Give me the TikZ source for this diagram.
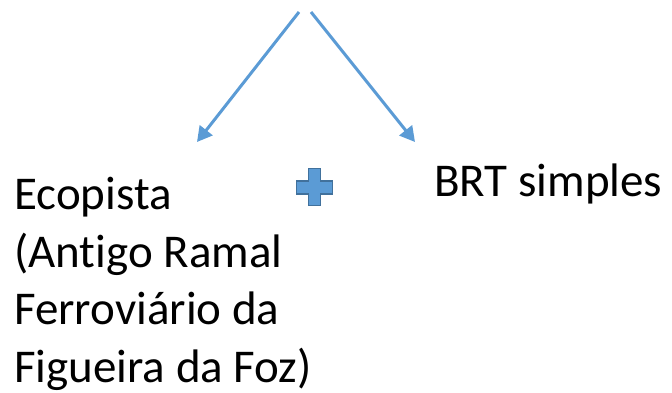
\documentclass[tikz,border=0pt]{standalone}
\usepackage{fontspec}
\setmainfont{Carlito}[Ligatures=NoCommon]
\usetikzlibrary{arrows.meta}
\definecolor{accent}{HTML}{5B9BD5}
\definecolor{accentdark}{HTML}{41719C}
\begin{document}
\begin{tikzpicture}[x=1pt,y=-1pt,
  conn/.style={draw=accent,line width=3pt,-{Triangle[length=15pt,width=16pt]}},
  label/.style={inner sep=0pt,font=\fontsize{47}{57.5}\selectfont,align=left,text=black},
  plusshape/.style={fill=accent,draw=accentdark,line width=1.6pt,line join=miter}]
\useasboundingbox (0,0) rectangle (672,393);
\coordinate (s1) at (299,12);
\coordinate (t1) at (197,142);
\coordinate (s2) at (311,12);
\coordinate (t2) at (415,142);
\draw[conn] (s1) -- (t1);
\draw[conn] (s2) -- (t2);
\node[label,anchor=base west] (eco) at (14,382) {Ecopista\\(Antigo Ramal\\Ferroviário da\\Figueira da Foz)};
\node[label,anchor=base west] (brt) at (434,196) {BRT simples};
\draw[plusshape] (308.5,168.5) -- (320.5,168.5) -- (320.5,181) -- (332.5,181) -- (332.5,194) -- (320.5,194) -- (320.5,205.5) -- (308.5,205.5) -- (308.5,194) -- (296.5,194) -- (296.5,181) -- (308.5,181) -- cycle;
\end{tikzpicture}
\end{document}
